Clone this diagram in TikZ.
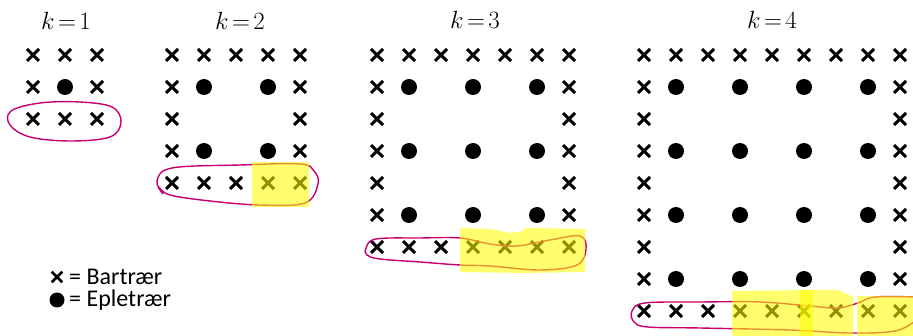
\documentclass[tikz,border=0pt]{standalone}
\usepackage{fontspec}
\newfontfamily\legendfont{Carlito}
\usetikzlibrary{shapes.misc}
\definecolor{loopc}{RGB}{200,0,110}
\definecolor{hl}{RGB}{255,255,0}
\tikzset{
  tree/.style={cross out, draw=black, line width=3pt, minimum size=9pt, inner sep=0pt},
  apple/.style={circle, fill=black, minimum size=16pt, inner sep=0pt},
  klabel/.style={font=\fontsize{23}{27}\selectfont, inner sep=0pt},
  loopline/.style={draw=loopc, line width=1.4pt},
  marker/.style={fill=hl, fill opacity=0.57, draw=none},
  legtext/.style={anchor=west, inner sep=0pt, font=\legendfont\fontsize{24}{28}\selectfont}
}
\newcommand\orchard[3]{%
  \pgfmathtruncatemacro\nn{2*#1}%
  \foreach \i in {0,...,\nn}{%
    \foreach \j in {0,...,\nn}{%
      \pgfmathtruncatemacro\bd{(\i==0)||(\j==0)||(\i==\nn)||(\j==\nn)}%
      \pgfmathtruncatemacro\dt{(mod(\i,2)==1)&&(mod(\j,2)==1)}%
      \ifnum\bd=1 \node[tree] (t#1-\i-\j) at ({#2+32*\i},{#3+32*\j}) {};\fi
      \ifnum\dt=1 \node[apple] (a#1-\i-\j) at ({#2+32*\i},{#3+32*\j}) {};\fi
    }%
  }%
}
\newcommand\klab[1]{$k\mskip2.5mu{=}\mskip2.5mu#1$}
\begin{document}
\begin{tikzpicture}[x=1pt,y=-1pt]
\useasboundingbox (0,0) rectangle (913,336);
% labels
\node[klabel] (l1) at (66,21) {\klab{1}};
\node[klabel] (l2) at (240,21) {\klab{2}};
\node[klabel] (l3) at (475,20) {\klab{3}};
\node[klabel] (l4) at (772,20) {\klab{4}};
% grids
\orchard{1}{33}{55}
\orchard{2}{172}{55}
\orchard{3}{377}{55}
\orchard{4}{644}{55}
% loops
\draw[loopline] plot[smooth cycle, tension=0.6] coordinates {(11,111) (40,103) (80,102) (112,107) (121,122) (110,137) (70,141) (30,137) (10,125)};
\draw[loopline] plot[smooth, tension=0.6] coordinates {(163,194) (157,181) (172,168) (240,165) (300,164) (314,171) (318,184) (305,203) (260,205) (210,201) (170,195) (159,187)};
\draw[loopline] plot[smooth cycle, tension=0.6] coordinates {(366,248) (376,239) (420,238) (460,238) (490,244) (517,246) (550,240) (580,236) (586,249) (577,265) (540,270) (490,266) (460,265) (420,262) (380,259) (367,255)};
\draw[loopline] plot[smooth, tension=0.6] coordinates {(915,297) (875,297) (858,303) (838,308) (810,306) (760,302) (700,302) (645,303) (632,311) (634,322) (648,327) (700,328) (790,330) (850,333) (895,331) (915,321)};
% highlights
\fill[marker] (252,162) rectangle (309,207);
\fill[marker] (460,228) -- (490,229) -- (510,233) -- (524,231) -- (524,273) -- (460,272) -- cycle;
\fill[marker] (524,228) -- (585,229) -- (585,272) -- (524,273) -- cycle;
\fill[marker] (732,291) -- (813,290) -- (813,336) -- (732,336) -- cycle;
\fill[marker] (800,290) -- (838,290) -- (853,297) -- (853,336) -- (800,336) -- cycle;
\fill[marker] (857,296) -- (913,296) -- (913,336) -- (857,336) -- cycle;
% legend
\node[tree, minimum size=8pt, line width=2.6pt] (lx) at (57,277) {};
\node[apple, minimum size=15pt] (ld) at (57,300) {};
\node[legtext] (lt1) at (69,277) {= Bartrær};
\node[legtext] (lt2) at (69,300) {= Epletrær};
\end{tikzpicture}
\end{document}
